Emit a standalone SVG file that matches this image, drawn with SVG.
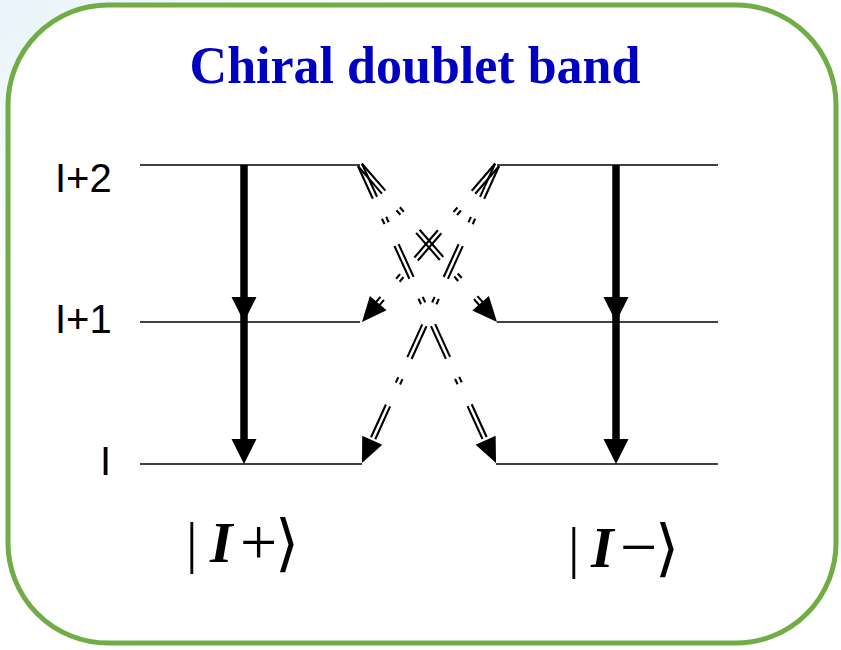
<svg xmlns="http://www.w3.org/2000/svg" width="841" height="650" viewBox="0 0 841 650">
  <defs>
    <radialGradient id="bg" cx="0" cy="0" r="0.5">
      <stop offset="0" stop-color="#E8F4FA"/>
      <stop offset="1" stop-color="#FFFFFF"/>
    </radialGradient>
    <style>
      .lvl { stroke: #000; stroke-width: 1.6; fill: none; }
      .lbl { font-family: "Liberation Sans", Arial, sans-serif; font-size: 40px; fill: #000; }
      .ket { font-family: "Liberation Serif", "Times New Roman", serif; font-size: 58px; fill: #000; }
      .op { font-family: "Liberation Serif", "Times New Roman", serif; font-size: 66px; fill: #000; }
      .br { font-family: "DejaVu Sans", "DejaVu Serif", sans-serif; font-weight: 200; font-size: 62px; fill: #000; }
      .dd { stroke: #000; stroke-width: 2.1; stroke-dasharray: 36 22 6 24; fill: none; }
      .vt { stroke: #000; stroke-width: 7.5; fill: none; }
      .ah { fill: #000; }
    </style>
  </defs>

  <rect x="0" y="0" width="841" height="650" fill="url(#bg)"/>
  <g id="frame">
    <rect x="8" y="5" width="828" height="638" rx="100" ry="100" fill="#FFFFFF" stroke="#70AD47" stroke-width="5"/>
  </g>

  <g id="title">
    <text x="415" y="83" text-anchor="middle" font-family="'Liberation Serif', 'Times New Roman', serif" font-weight="bold" font-size="52" fill="#0000C0">Chiral doublet band</text>
  </g>

  <g id="band-plus">
    <line class="lvl" x1="140" y1="165" x2="360" y2="165"/>
    <line class="lvl" x1="140" y1="322" x2="360" y2="322"/>
    <line class="lvl" x1="140" y1="464" x2="362" y2="464" stroke-width="2"/>
  </g>
  <g id="band-minus">
    <line class="lvl" x1="497" y1="165" x2="718" y2="165"/>
    <line class="lvl" x1="497" y1="322" x2="718" y2="322"/>
    <line class="lvl" x1="496" y1="464" x2="718" y2="464" stroke-width="2"/>
  </g>

  <g id="level-labels">
    <text class="lbl" x="55" y="192">I+2</text>
    <text class="lbl" x="55" y="333">I+1</text>
    <text class="lbl" x="100" y="475">I</text>
  </g>

  <g id="ket-plus">
    <text class="ket" x="186" y="562">|</text>
    <text class="ket" x="210" y="562" font-weight="bold" font-style="italic">I</text>
    <text class="op" x="240" y="564">+</text>
    <text class="br" x="275" y="564">⟩</text>
  </g>
  <g id="ket-minus">
    <text class="ket" x="568" y="567">|</text>
    <text class="ket" x="591" y="567" font-weight="bold" font-style="italic">I</text>
    <text class="op" x="620" y="569">−</text>
    <text class="br" x="655" y="569">⟩</text>
  </g>

  <g id="connectors">
    <g id="e2-plus">
      <line class="vt" x1="244" y1="165" x2="244" y2="452"/>
      <polygon class="ah" points="231.5,297 256.5,297 244,322"/>
      <polygon class="ah" points="231.5,439 256.5,439 244,464"/>
    </g>
    <g id="e2-minus">
      <line class="vt" x1="616" y1="165" x2="616" y2="452"/>
      <polygon class="ah" points="603.5,297 628.5,297 616,322"/>
      <polygon class="ah" points="603.5,439 628.5,439 616,464"/>
    </g>
    <g id="m1-plus-minus" transform="translate(360,165) rotate(48.89)">
      <line class="dd" x1="0" y1="-2.3" x2="196" y2="-2.3"/>
      <line class="dd" x1="0" y1="2.3" x2="196" y2="2.3"/>
      <polygon class="ah" points="208.4,0 183.4,-11 183.4,11"/>
    </g>
    <g id="m1-minus-plus" transform="translate(497,165) rotate(130.70)">
      <line class="dd" x1="0" y1="-2.3" x2="195" y2="-2.3"/>
      <line class="dd" x1="0" y1="2.3" x2="195" y2="2.3"/>
      <polygon class="ah" points="207.1,0 182.1,-11 182.1,11"/>
    </g>
    <g id="e2-plus-minus" transform="translate(360,165) rotate(65.47)">
      <line class="dd" x1="0" y1="-2.3" x2="315" y2="-2.3"/>
      <line class="dd" x1="0" y1="2.3" x2="315" y2="2.3"/>
      <polygon class="ah" points="327.6,0 302.6,-11 302.6,11"/>
    </g>
    <g id="e2-minus-plus" transform="translate(497,165) rotate(114.38)">
      <line class="dd" x1="0" y1="-2.3" x2="315" y2="-2.3"/>
      <line class="dd" x1="0" y1="2.3" x2="315" y2="2.3"/>
      <polygon class="ah" points="327.2,0 302.2,-11 302.2,11"/>
    </g>
  </g>
</svg>
